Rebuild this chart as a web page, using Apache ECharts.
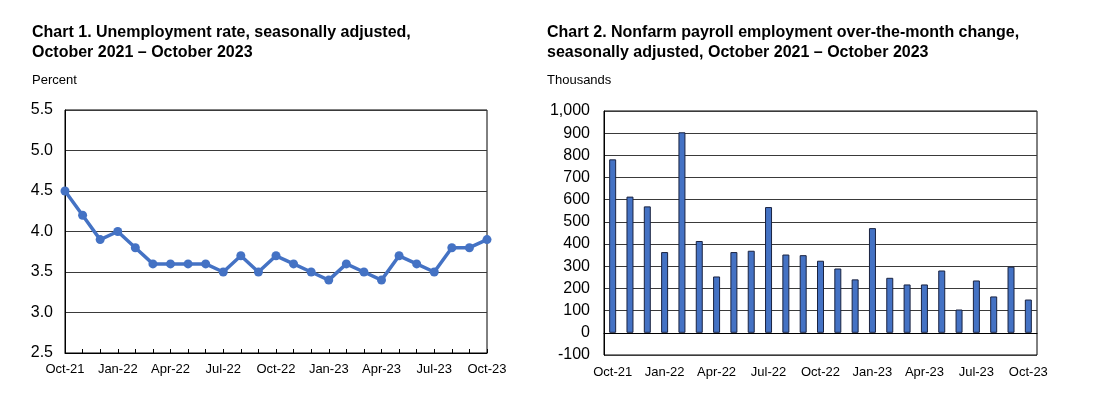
<!DOCTYPE html>
<html>
<head>
<meta charset="utf-8">
<script src="https://cdn.jsdelivr.net/npm/echarts@6/dist/echarts.min.js"></script>
<style>
html,body{margin:0;padding:0;background:#fff;}
#c{width:1117px;height:411px;}
</style>
</head>
<body>
<div id="c"></div>
<script>
const months = ['Oct-21','Nov-21','Dec-21','Jan-22','Feb-22','Mar-22','Apr-22','May-22','Jun-22','Jul-22','Aug-22','Sep-22','Oct-22','Nov-22','Dec-22','Jan-23','Feb-23','Mar-23','Apr-23','May-23','Jun-23','Jul-23','Aug-23','Sep-23','Oct-23'];
const unemploymentRate = [4.5,4.2,3.9,4.0,3.8,3.6,3.6,3.6,3.6,3.5,3.7,3.5,3.7,3.6,3.5,3.4,3.6,3.5,3.4,3.7,3.6,3.5,3.8,3.8,3.9];
const payrollChange = [782,614,570,364,904,414,254,364,370,567,353,350,325,290,241,472,248,218,218,281,105,236,164,298,150];
const chart1Title = 'Chart 1. Unemployment rate, seasonally adjusted,\nOctober 2021 – October 2023';
const chart2Title = 'Chart 2. Nonfarm payroll employment over-the-month change,\nseasonally adjusted, October 2021 – October 2023';
const chart1Unit = 'Percent';
const chart2Unit = 'Thousands';

const FONT = 'Liberation Sans, Arial, sans-serif';
const gridColor = '#3a3a3a';
const titleStyle = {fontFamily: FONT, fontSize: 16, fontWeight: 'bold', color: '#000', lineHeight: 20};
const unitStyle = {fontFamily: FONT, fontSize: 13, fontWeight: 'normal', color: '#000'};
const chart = echarts.init(document.getElementById('c'));
chart.setOption({
  animation: false,
  textStyle: {fontFamily: FONT},
  title: [
    {text: chart1Title, left: 32, top: 23, padding: 0, textStyle: titleStyle},
    {text: chart1Unit, left: 32, top: 74, padding: 0, textStyle: unitStyle},
    {text: chart2Title, left: 547, top: 23, padding: 0, textStyle: titleStyle},
    {text: chart2Unit, left: 547, top: 74, padding: 0, textStyle: unitStyle}
  ],
  grid: [
    {left: 65, top: 110, width: 422, height: 243, show: true, borderColor: '#000', borderWidth: 1, containLabel: false},
    {left: 604, top: 111, width: 433, height: 244, show: true, borderColor: '#000', borderWidth: 1, containLabel: false}
  ],
  xAxis: [
    {type: 'category', gridIndex: 0, data: months, boundaryGap: false,
     axisLine: {lineStyle: {color: '#000'}},
     axisTick: {show: true, inside: true, length: 4, interval: 0, lineStyle: {color: '#000'}},
     axisLabel: {interval: 2, color: '#000', fontSize: 13, margin: 10, fontFamily: FONT},
     splitLine: {show: false}},
    {type: 'category', gridIndex: 1, data: months, boundaryGap: true,
     axisLine: {lineStyle: {color: '#000'}},
     axisTick: {show: false},
     axisLabel: {interval: 2, color: '#000', fontSize: 13, margin: 11, fontFamily: FONT},
     splitLine: {show: false}}
  ],
  yAxis: [
    {type: 'value', gridIndex: 0, min: 2.5, max: 5.5, interval: 0.5,
     axisLine: {show: true, lineStyle: {color: '#000'}}, axisTick: {show: false},
     axisLabel: {color: '#000', fontSize: 16, margin: 12, fontFamily: FONT, formatter: v => v.toFixed(1)},
     splitLine: {show: true, lineStyle: {color: gridColor, width: 1}}},
    {type: 'value', gridIndex: 1, min: -100, max: 1000, interval: 100,
     axisLine: {show: true, lineStyle: {color: '#000'}}, axisTick: {show: false},
     axisLabel: {color: '#000', fontSize: 16, margin: 14, fontFamily: FONT, formatter: v => v.toLocaleString('en-US')},
     splitLine: {show: true, lineStyle: {color: gridColor, width: 1}}}
  ],
  series: [
    {type: 'line', xAxisIndex: 0, yAxisIndex: 0, data: unemploymentRate,
     symbol: 'circle', symbolSize: 9,
     lineStyle: {color: '#4472C4', width: 3.5},
     itemStyle: {color: '#4472C4'}},
    {type: 'bar', xAxisIndex: 1, yAxisIndex: 1, data: payrollChange,
     barWidth: 7,
     itemStyle: {color: '#4472C4', borderColor: '#1a2340', borderWidth: 1}}
  ]
});
</script>
</body>
</html>
